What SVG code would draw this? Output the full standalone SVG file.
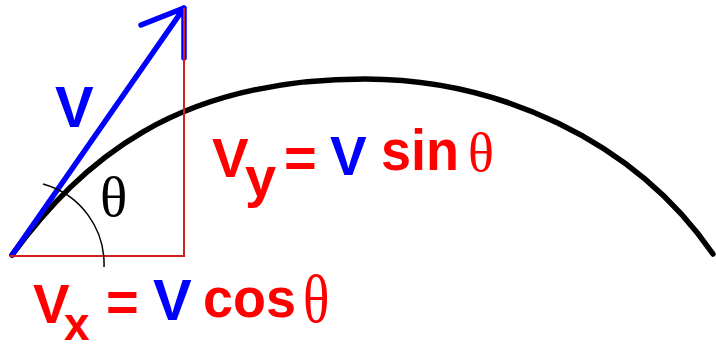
<svg xmlns="http://www.w3.org/2000/svg" width="716" height="349" viewBox="0 0 716 349">
<style>
.b{font-family:"Liberation Sans",Arial,sans-serif;font-weight:bold}
.th{font-family:"Liberation Serif","Times New Roman",serif;font-weight:normal}
.red{fill:#ff0000}
.blue{fill:#0000ff}
.tri{stroke:#d02020;stroke-width:2;fill:none}
</style>
<rect width="716" height="349" fill="#ffffff"/>
<g id="trajectory">
<path d="M12,255 C82,160.5 175,79 365,79 C495,79 633,138 713,254" fill="none" stroke="#000" stroke-width="5.5" stroke-linecap="round"/>
</g>
<g id="velocity">
<path d="M12,255 L184,8 M141,25 L184,8 L184,58" fill="none" stroke="#0000ff" stroke-width="5.5" stroke-linecap="round" stroke-linejoin="round"/>
</g>
<g id="components">
<path class="tri" d="M10,256 L184,256 L184,8"/>
<path d="M43,184 A83,83 0 0 1 104,267" fill="none" stroke="#000" stroke-width="1.5"/>
</g>
<g id="labels">
<text class="b blue" x="55" y="127" font-size="58">V</text>
<text class="th" x="100" y="216" font-size="57" fill="#000">θ</text>
<g id="vy">
<text class="b red" x="212" y="177" font-size="55">V</text>
<text class="b red" x="245" y="196" font-size="56">y</text>
<text class="b red" x="284" y="177" font-size="56">=</text>
<text class="b blue" x="330" y="175" font-size="55">V</text>
<text class="b red" x="381" y="170" font-size="57" textLength="78" lengthAdjust="spacingAndGlyphs">sin</text>
<text class="th red" x="468" y="171" font-size="54">θ</text>
</g>
<g id="vx">
<text class="b red" x="33" y="323" font-size="55">V</text>
<text class="b red" x="64" y="340" font-size="46">x</text>
<text class="b red" x="106" y="321" font-size="56">=</text>
<text class="b blue" x="153" y="320" font-size="58">V</text>
<text class="b red" x="203" y="317" font-size="56" textLength="93" lengthAdjust="spacingAndGlyphs">cos</text>
<text class="th red" transform="translate(303,322) scale(1,1.23)" x="0" y="0" font-size="55">θ</text>
</g>
</g>
</svg>
